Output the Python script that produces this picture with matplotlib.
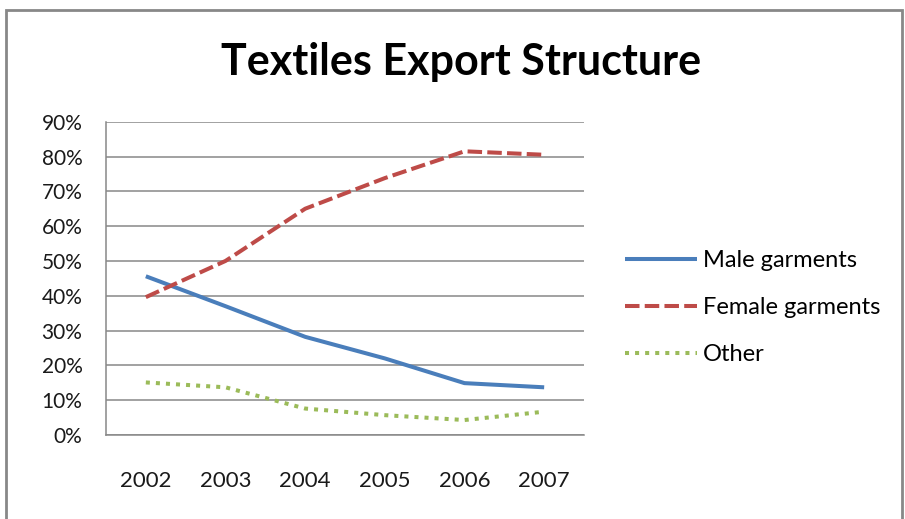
import matplotlib.pyplot as plt
from matplotlib.patches import Rectangle

anios = ['2002', '2003', '2004', '2005', '2006', '2007']
masculino = [45.6, 37.0, 28.2, 22.0, 14.9, 13.7]
femenino = [39.6, 50.0, 65.0, 73.8, 81.5, 80.5]
otros = [15.1, 13.7, 7.6, 5.7, 4.3, 6.7]
series = ['Male garments', 'Female garments', 'Other']

plt.rcParams['font.family'] = ['Lato', 'DejaVu Sans']

fig = plt.figure(figsize=(9.05, 5.19), dpi=100)
ax = fig.add_axes([106 / 905, 1 - 435 / 519, 478 / 905, 313.3 / 519])

x = list(range(len(anios)))
ax.plot(x, masculino, color='#4A7EBB', lw=2.9, solid_capstyle='butt', label=series[0])
ax.plot(x, femenino, color='#BE4B48', lw=2.9, dashes=(3.6, 1.3), label=series[1])
ax.plot(x, otros, color='#9BBB59', lw=2.9, dashes=(1.0, 1.5), label=series[2])

ax.set_xlim(-0.5, 5.5)
ax.set_ylim(0, 90)
ax.set_yticks(range(0, 91, 10))
ax.set_yticklabels([f'{v}%' for v in range(0, 91, 10)])
ax.set_xticks(x)
ax.set_xticklabels(anios)
ax.tick_params(axis='both', length=0, colors='#1a1a1a')
ax.tick_params(axis='y', pad=17, labelsize=15)
ax.tick_params(axis='x', pad=26, labelsize=16)
ax.grid(True, axis='y', color='#888888', lw=1.1)
ax.set_axisbelow(True)
for lado in ['top', 'right']:
    ax.spines[lado].set_visible(False)
for lado in ['left', 'bottom']:
    ax.spines[lado].set_color('#888888')
    ax.spines[lado].set_linewidth(1.1)

fig.text(461 / 905, 1 - 75 / 519, 'Textiles Export Structure', ha='center', va='baseline',
         fontsize=31, fontweight='bold')

fig.legend(loc='center left', bbox_to_anchor=(625 / 905, 1 - 307.5 / 519), frameon=False,
           fontsize=17, handlelength=3.05, handletextpad=0.25, labelspacing=1.1,
           borderpad=0, borderaxespad=0)

fig.patches.append(Rectangle((6 / 905, -0.1), 896 / 905, 1 - 10 / 519 + 0.1,
                             transform=fig.transFigure, fill=False,
                             edgecolor='#888888', lw=2))

fig.savefig('out.png', dpi=100)
